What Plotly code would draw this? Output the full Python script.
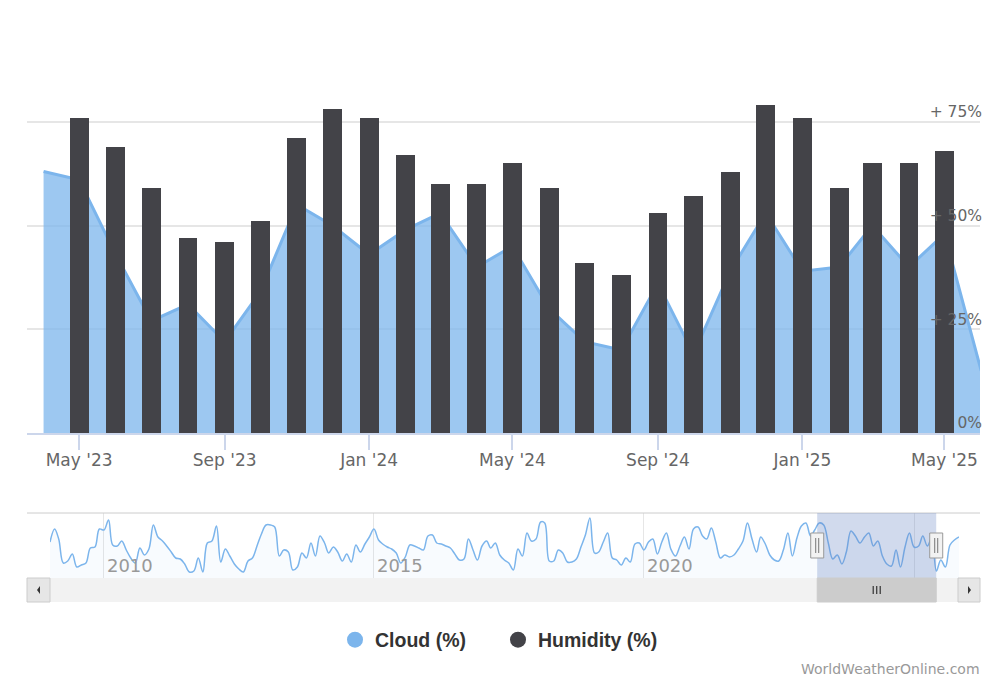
import pandas as pd
import plotly.graph_objects as go

# cloud cover (%) shown in the main chart, Apr 2023 - Jun 2025
cloud_months = pd.date_range('2023-04-01', '2025-06-01', freq='MS')
cloud = [63, 61, 43, 27, 31, 22, 34, 55, 50, 43, 49, 53, 40, 45, 30, 22, 20, 36,
         19, 39, 53, 39, 40, 50, 40, 48, 15]

# humidity (%), May 2023 - May 2025
humidity_months = pd.date_range('2023-05-01', '2025-05-01', freq='MS')
humidity = [76, 69, 59, 47, 46, 51, 71, 78, 76, 67, 60, 60, 65, 59, 41, 38, 53,
            57, 63, 79, 76, 59, 65, 65, 68]

# cloud history for the navigator, Jan 2009 - Mar 2023
nav_hist = [
    44, 57, 47, 23, 25, 32, 19, 21, 23, 38, 39, 57,   # 2009
    56, 66, 41, 40, 45, 36, 28, 23, 38, 31, 37, 61,   # 2010
    49, 45, 40, 34, 28, 27, 22, 14, 15, 28, 14, 43,   # 2011
    45, 60, 24, 37, 30, 22, 17, 14, 25, 28, 40, 52,   # 2012
    61, 61, 59, 30, 36, 34, 16, 19, 33, 28, 43, 30,   # 2013
    50, 43, 33, 39, 34, 25, 32, 24, 41, 34, 42, 49,   # 2014
    57, 46, 42, 39, 37, 33, 23, 29, 41, 40, 38, 36,   # 2015
    50, 51, 43, 42, 40, 38, 32, 26, 27, 47, 36, 26,   # 2016
    40, 45, 38, 43, 31, 26, 23, 16, 37, 30, 53, 45,   # 2017
    47, 64, 63, 25, 25, 36, 33, 24, 24, 27, 39, 51,   # 2018
    68, 33, 34, 44, 53, 28, 26, 21, 28, 24, 42, 43,   # 2019
    36, 44, 47, 32, 44, 53, 37, 30, 40, 49, 37, 57,   # 2020
    59, 50, 47, 58, 44, 28, 31, 29, 31, 37, 45, 63,   # 2021
    47, 34, 49, 42, 31, 26, 25, 36, 53, 30, 48, 60,   # 2022
    63, 50, 56,                                       # 2023
]
# after the selected window, Jul - Nov 2025
nav_tail = [26, 19, 41, 46, 49]
nav_months = pd.date_range('2009-01-01', '2025-11-01', freq='MS')
nav_cloud = nav_hist + cloud + nav_tail

view_range = ['2023-03-18', '2025-05-31']
y_ticks = [0, 25, 50, 75, 100]
y_labels = ['0%', '+ 25%', '+ 50%', '+ 75%', '']

W, H = 1000, 691
OFF = 8  # page body margin

def px(x):
    return (x - OFF) / W

def py(y):
    return 1 - (y - OFF) / H

fig = go.Figure()

fig.add_trace(go.Scatter(
    x=cloud_months, y=cloud, mode='lines', fill='tozeroy',
    line=dict(color='#7cb5ec', width=3),
    fillcolor='rgba(124,181,236,0.75)',
    showlegend=False, name='Cloud (%)'
))
fig.add_trace(go.Bar(
    x=humidity_months, y=humidity, xaxis='x', yaxis='y3',
    marker=dict(color='#434348', line=dict(width=0)),
    width=16 * 86400000, showlegend=False, name='Humidity (%)'
))
fig.add_trace(go.Scatter(
    x=nav_months, y=nav_cloud, xaxis='x2', yaxis='y2', mode='lines',
    line=dict(color='#7cb5ec', width=1.5, shape='spline'),
    fill='tozeroy', fillcolor='rgba(124,181,236,0.05)',
    showlegend=False, hoverinfo='skip'
))
fig.add_trace(go.Scatter(x=[None], y=[None], xaxis='x', yaxis='y4',
                         showlegend=False, hoverinfo='skip'))

# legend entries with round symbols
fig.add_trace(go.Scatter(x=[None], y=[None], mode='markers', name='Cloud (%)',
                         marker=dict(symbol='circle', size=20, color='#7cb5ec')))
fig.add_trace(go.Scatter(x=[None], y=[None], mode='markers', name='Humidity (%)',
                         marker=dict(symbol='circle', size=20, color='#434348')))

shapes = []
# navigator outline and scrollbar
shapes.append(dict(type='line', xref='paper', yref='paper', x0=px(27), x1=px(980),
                   y0=py(513), y1=py(513), line=dict(color='#cccccc', width=1)))
shapes.append(dict(type='rect', xref='paper', yref='paper', x0=px(27), x1=px(980),
                   y0=py(602), y1=py(578), fillcolor='#f2f2f2', line=dict(width=0)))
for a, b in [(27, 50), (958, 980)]:
    shapes.append(dict(type='rect', xref='paper', yref='paper', x0=px(a), x1=px(b),
                       y0=py(602), y1=py(578), fillcolor='#e6e6e6',
                       line=dict(color='#cccccc', width=1)))
shapes.append(dict(type='path', xref='paper', yref='paper',
                   path=f'M {px(37)} {py(590)} L {px(40)} {py(586)} L {px(40)} {py(594)} Z',
                   fillcolor='#333333', line=dict(width=0)))
shapes.append(dict(type='path', xref='paper', yref='paper',
                   path=f'M {px(971)} {py(590)} L {px(968)} {py(586)} L {px(968)} {py(594)} Z',
                   fillcolor='#333333', line=dict(width=0)))

# selected window in the navigator
shapes.append(dict(type='rect', xref='x2', yref='paper', x0=view_range[0], x1=view_range[1],
                   y0=py(578), y1=py(513), fillcolor='rgba(102,133,194,0.3)',
                   line=dict(width=0), layer='above'))
shapes.append(dict(type='rect', xref='x2', yref='paper', x0=view_range[0], x1=view_range[1],
                   y0=py(602), y1=py(578), fillcolor='#cccccc',
                   line=dict(color='#cccccc', width=1)))
mid = pd.Timestamp(view_range[0]) + (pd.Timestamp(view_range[1]) - pd.Timestamp(view_range[0])) / 2
for off in (-3.5, 0, 3.5):
    shapes.append(dict(type='line', xref='x2', xsizemode='pixel', xanchor=mid,
                       x0=off, x1=off, yref='paper', y0=py(594), y1=py(586),
                       line=dict(color='#333333', width=1.2)))
for edge in view_range:
    shapes.append(dict(type='rect', xref='x2', xsizemode='pixel', xanchor=edge,
                       x0=-6.5, x1=6.5, yref='paper', y0=py(558), y1=py(533),
                       fillcolor='#f2f2f2', line=dict(color='#999999', width=1)))
    for off in (-1.5, 1.5):
        shapes.append(dict(type='line', xref='x2', xsizemode='pixel', xanchor=edge,
                           x0=off, x1=off, yref='paper', y0=py(553), y1=py(538),
                           line=dict(color='#777777', width=1)))

fig.update_layout(
    width=W, height=H,
    margin=dict(l=0, r=0, t=0, b=0, autoexpand=False),
    paper_bgcolor='white',
    plot_bgcolor='white',
    bargap=0,
    shapes=shapes,
    xaxis=dict(
        type='date', domain=[px(27), px(980)], range=view_range, anchor='y',
        showgrid=False, zeroline=False, automargin=False,
        showline=True, linecolor='#ccd6eb', linewidth=1.5,
        ticks='outside', ticklen=15, tickcolor='#ccd6eb', tickwidth=1.5,
        tick0='2023-01-01', dtick='M4', tickformat="%b '%y",
        ticklabelstandoff=-4,
        tickfont=dict(family='DejaVu Sans', size=17, color='#666666'),
        fixedrange=True
    ),
    yaxis=dict(
        domain=[py(433), py(18)], range=[0, 100], anchor='x', automargin=False,
        tickvals=y_ticks, showticklabels=False, ticks='',
        gridcolor='#e6e6e6', gridwidth=1.5, zeroline=False, showline=False,
        fixedrange=True
    ),
    yaxis3=dict(range=[0, 100], overlaying='y', visible=False, anchor='x',
                automargin=False),
    # right-hand percentage labels, drawn inside the plot above each gridline
    yaxis4=dict(
        range=[0, 100], overlaying='y', side='left', anchor='free', position=px(982),
        tickvals=y_ticks, ticktext=y_labels, ticks='', ticklabelshift=-10,
        showgrid=False, zeroline=False, showline=False, automargin=False,
        tickfont=dict(family='DejaVu Sans', size=15.5, color='#666666'),
        fixedrange=True
    ),
    xaxis2=dict(
        type='date', domain=[px(50), px(959)], range=['2009-01-01', '2025-11-01'],
        anchor='y2', showgrid=True, gridcolor='#e6e6e6', gridwidth=1,
        zeroline=False, showline=False, ticks='', automargin=False,
        tick0='2010-01-01', dtick='M60', tickformat='%Y',
        ticklabelposition='inside right', ticklabelstandoff=-4, ticklabelshift=3,
        tickfont=dict(family='DejaVu Sans', size=18, color='#999999'),
        fixedrange=True
    ),
    yaxis2=dict(domain=[py(578), py(513)], range=[8, 73], anchor='x2',
                visible=False, fixedrange=True, automargin=False),
    legend=dict(
        orientation='h', x=px(498), xanchor='center', y=py(640), yanchor='middle',
        font=dict(family='Liberation Sans, Arial', size=19.5, color='#333333', weight='bold'),
        bgcolor='rgba(0,0,0,0)', entrywidth=118, entrywidthmode='pixels'
    ),
    annotations=[dict(
        text='WorldWeatherOnline.com', xref='paper', yref='paper',
        x=px(982), y=py(669), xanchor='right', yanchor='middle', showarrow=False,
        font=dict(family='DejaVu Sans', size=14, color='#999999')
    )]
)

fig.write_html('out.html')
